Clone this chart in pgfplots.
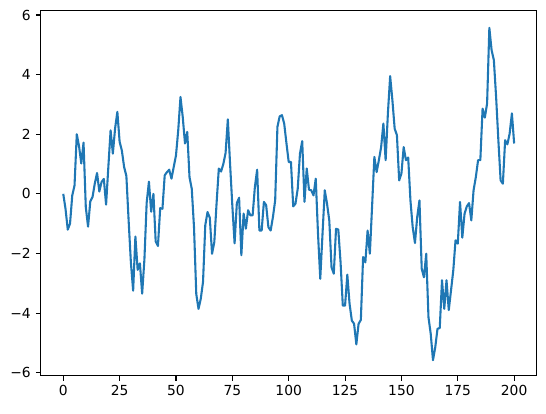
\documentclass[border=0pt]{standalone}
\usepackage{fontspec}
\setmainfont{DejaVu Sans}
\usepackage{pgfplots}
\usepackage{pgfplotstable}
\pgfplotsset{compat=1.18}
\definecolor{tabblue}{HTML}{1F77B4}
\pgfplotstableread{
x y
0 0.0
1 -0.5
2 -1.2
3 -1.0
4 -0.05
5 0.28
6 2.0
7 1.6
8 1.02
9 1.72
10 -0.45
11 -1.1
12 -0.25
13 -0.1
14 0.35
15 0.7
16 0.08
17 0.4
18 0.5
19 -0.36
20 0.9
21 2.13
22 1.35
23 2.2
24 2.75
25 1.75
26 1.45
27 0.9
28 0.6
29 -0.9
30 -2.3
31 -3.25
32 -1.43
33 -2.55
34 -2.33
35 -3.35
36 -2.2
37 -0.3
38 0.41
39 -0.6
40 0.0
41 -1.6
42 -1.75
43 -0.48
44 -0.5
45 0.62
46 0.73
47 0.81
48 0.51
49 0.9
50 1.29
51 2.13
52 3.25
53 2.58
54 1.69
55 2.08
56 0.56
57 0.17
58 -1.12
59 -3.36
60 -3.86
61 -3.52
62 -2.95
63 -1.05
64 -0.61
65 -0.8
66 -2.01
67 -1.62
68 -0.33
69 0.85
70 0.75
71 1.0
72 1.37
73 2.5
74 1.0
75 -0.4
76 -1.66
77 -0.31
78 -0.13
79 -2.06
80 -0.66
81 -1.17
82 -0.55
83 -0.72
84 -0.72
85 0.23
86 0.81
87 -1.23
88 -1.23
89 -0.27
90 -0.38
91 -1.12
92 -1.23
93 -0.78
94 -0.22
95 2.25
96 2.6
97 2.64
98 2.36
99 1.7
100 1.07
101 1.07
102 -0.42
103 -0.33
104 0.17
105 1.35
106 1.77
107 -0.27
108 0.85
109 0.14
110 0.12
111 -0.05
112 0.51
113 -1.34
114 -2.85
115 -1.34
116 0.12
117 -0.33
118 -0.89
119 -2.46
120 -2.68
121 -1.17
122 -1.2
123 -2.29
124 -3.75
125 -3.75
126 -2.71
127 -3.69
128 -4.25
129 -4.36
130 -5.05
131 -4.36
132 -4.23
133 -2.12
134 -2.3
135 -1.23
136 -2.01
137 -0.4
138 1.24
139 0.73
140 1.13
141 1.57
142 2.36
143 1.13
144 2.7
145 3.95
146 3.14
147 2.19
148 1.97
149 0.45
150 0.68
151 1.57
152 1.13
153 1.22
154 -0.22
155 -1.12
156 -1.65
157 -0.78
158 -0.22
159 -2.51
160 -2.8
161 -2.01
162 -4.14
163 -4.7
164 -5.58
165 -5.15
166 -4.53
167 -4.5
168 -2.9
169 -3.86
170 -2.9
171 -3.9
172 -3.24
173 -2.57
174 -1.56
175 -1.67
176 -0.27
177 -1.47
178 -0.67
179 -0.42
180 -0.31
181 -0.89
182 0.12
183 0.56
184 1.13
185 1.13
186 2.86
187 2.56
188 3.03
189 5.57
190 4.82
191 4.49
192 3.25
193 1.8
194 0.45
195 0.34
196 1.8
197 1.66
198 2.02
199 2.7
200 1.69
}\datatable
\begin{document}
\begin{tikzpicture}
\begin{axis}[
  scale only axis,
  width=357bp, height=263bp,
  xmin=-10, xmax=210, ymin=-6.1, ymax=6.16,
  xtick={0,25,...,200},
  ytick={-6,-4,...,6},
  yticklabels={−6,−4,−2,0,2,4,6},
  tick align=outside,
  major tick length=3.5bp,
  tick style={black, line width=0.8bp},
  axis line style={line width=0.8bp},
  xtick pos=bottom, ytick pos=left,
  tick label style={font=\fontsize{10}{12}\selectfont},
  /pgf/number format/assume math mode=true,
  xticklabel style={inner sep=0pt, yshift=-3.5bp},
  yticklabel style={inner sep=0pt, xshift=-3.5bp},
]
\addplot[color=tabblue, line width=1.5bp, line join=round] table[x=x,y=y] {\datatable};
\end{axis}
\path ([shift={(-29.3bp,-27.1bp)}]current axis.south west) rectangle ([shift={(6.7bp,7.4bp)}]current axis.north east);
\end{tikzpicture}
\end{document}
